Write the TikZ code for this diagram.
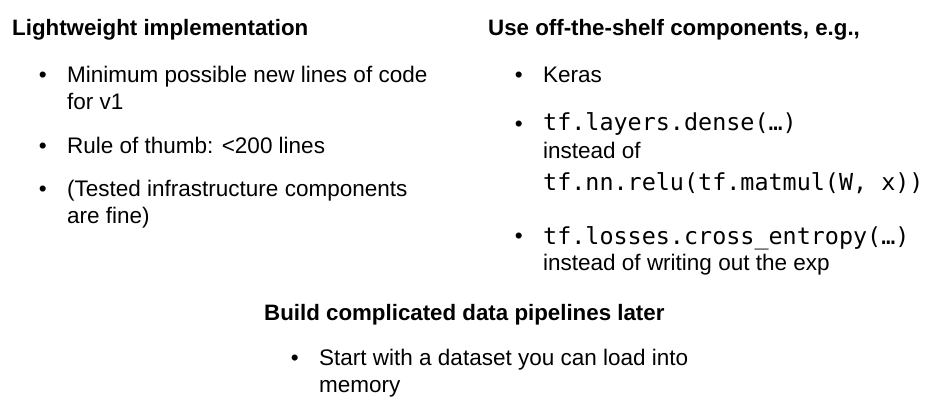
\documentclass[tikz,border=0pt]{standalone}
\usepackage{fontspec}
\setmainfont{Liberation Sans}
\setmonofont{DejaVu Sans Mono}
\usetikzlibrary{positioning}
\newcommand{\code}[1]{{\ttfamily\fontsize{23.4}{28}\selectfont #1}}
\tikzset{
	head/.style={anchor=base west, inner sep=0pt, font=\bfseries\fontsize{22.3}{27}\selectfont},
	item/.style={anchor=base west, inner sep=0pt, align=left, font=\fontsize{22.5}{27}\selectfont},
	bul/.style={inner sep=0pt, anchor=base east, font=\fontsize{22.5}{27}\selectfont}
}

\begin{document}
\begin{tikzpicture}[x=1pt,y=-1pt]
		\useasboundingbox (0,0) rectangle (941,404);
		% left column
		\node[head] (light) at (12,36) {Lightweight implementation};
		\node[item] (minimum) at (67,109) {Minimum possible new lines of code\\for v1};
		\node[item] (thumb) at (67,153) {Rule of thumb: <200 lines};
		\node[item] (tested) at (67,223) {(Tested infrastructure components\\are fine)};
		% right column
		\node[head] (shelf) at (488,36) {Use off-the-shelf components, e.g.,};
		\node[item] (keras) at (543,82) {Keras};
		\node[item] (dense) at (543,190) {\code{tf.layers.dense(…)}\\[1pt]instead of\\[5pt]\code{tf.nn.relu(tf.matmul(W, x))}};
		\node[item] (xent) at (543,270) {\code{tf.losses.cross\_entropy(…)}\\[-1pt]instead of writing out the exp};
		% bottom
		\node[head] (pipe) at (264,320) {Build complicated data pipelines later};
		\node[item] (memory) at (319,392) {Start with a dataset you can load into\\memory};
		% bullets on the first line of each item
		\foreach \n/\y in {minimum/82,thumb/153,tested/196,keras/82,dense/131,xent/243,memory/365}
			\node[bul] (b\n) at ([xshift=-20pt]\n.west |- 0,\y) {\textbullet};
	\end{tikzpicture}
\end{document}
